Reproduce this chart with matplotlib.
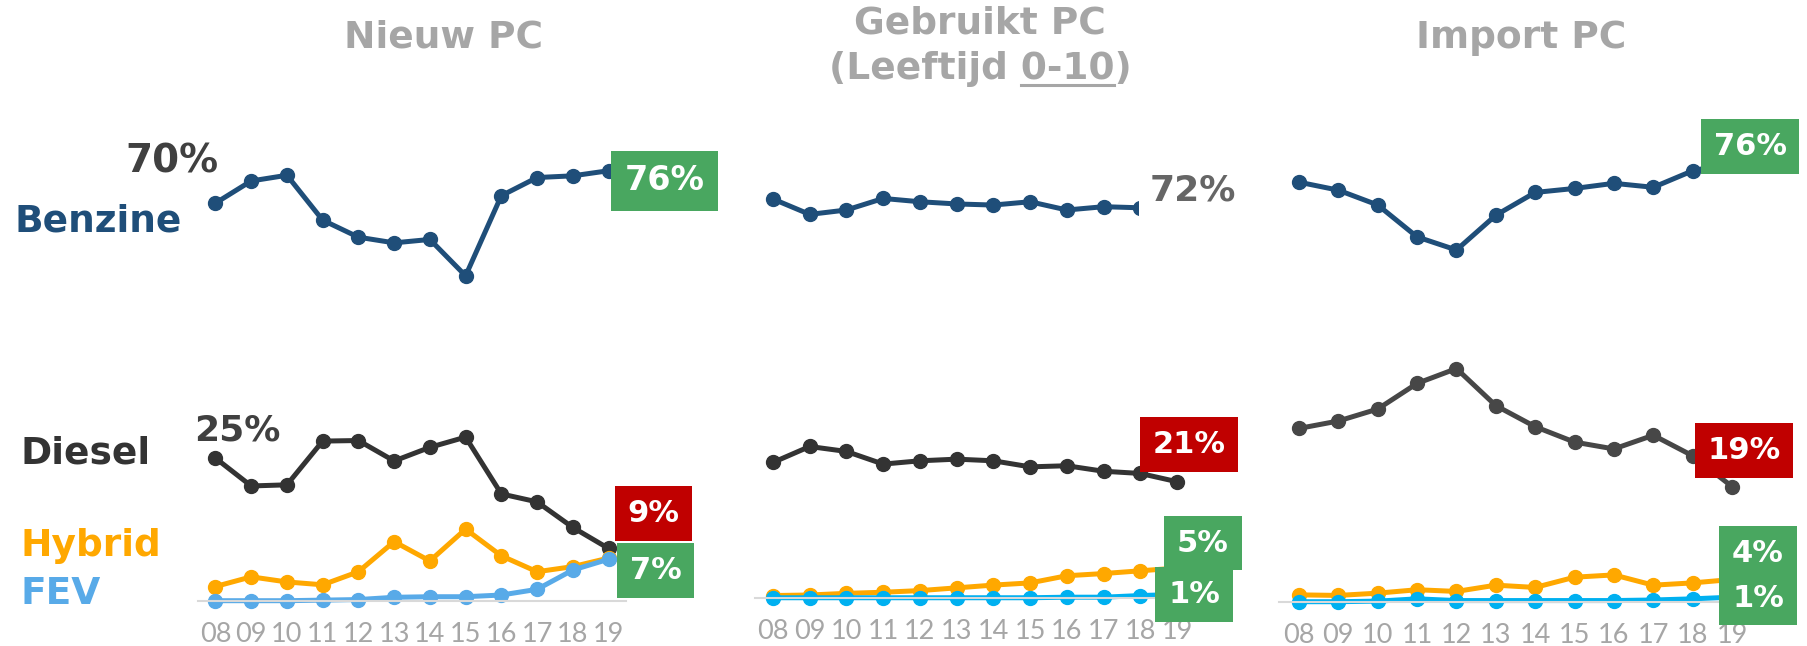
import matplotlib.pyplot as plt
from matplotlib.lines import Line2D

# Data (share of registrations, %)
years = ['08', '09', '10', '11', '12', '13', '14', '15', '16', '17', '18', '19']

nieuw_benzine = [70.0, 73.9, 74.9, 67.0, 64.0, 63.0, 63.6, 57.2, 71.3, 74.5, 74.8, 75.7]
nieuw_diesel = [25.1, 20.2, 20.4, 28.1, 28.2, 24.6, 27.0, 28.8, 18.8, 17.4, 12.9, 9.2]
nieuw_hybrid = [2.5, 4.2, 3.3, 2.8, 5.1, 10.4, 7.0, 12.6, 7.9, 5.1, 6.0, 7.5]
nieuw_fev = [0.0, 0.0, 0.0, 0.1, 0.2, 0.6, 0.7, 0.7, 1.0, 2.0, 5.4, 7.3]

gebruikt_benzine = [72.6, 69.8, 70.6, 72.7, 72.1, 71.7, 71.5, 72.1, 70.6, 71.2, 71.0, 72.0]
gebruikt_diesel = [24.7, 27.6, 26.7, 24.4, 25.0, 25.3, 25.0, 23.9, 24.1, 23.1, 22.7, 21.2]
gebruikt_hybrid = [0.5, 0.6, 0.9, 1.1, 1.4, 1.9, 2.4, 2.8, 4.1, 4.5, 5.0, 5.5]
gebruikt_fev = [0.1, 0.1, 0.1, 0.1, 0.1, 0.1, 0.1, 0.1, 0.2, 0.2, 0.5, 0.7]

import_benzine = [73.6, 72.2, 69.6, 64.0, 61.7, 67.8, 71.8, 72.5, 73.4, 72.7, 75.6, 77.0]
import_diesel = [30.4, 31.7, 33.8, 38.3, 40.9, 34.4, 30.7, 28.0, 26.8, 29.2, 25.6, 20.2]
import_hybrid = [1.2, 1.1, 1.5, 2.1, 1.8, 2.9, 2.5, 4.3, 4.7, 2.9, 3.3, 3.9]
import_fev = [0.0, 0.0, 0.1, 0.5, 0.2, 0.2, 0.2, 0.2, 0.2, 0.3, 0.5, 0.8]

W, H = 1807, 646
BLUE = '#1F4E79'; ORANGE = '#FFA800'; GREEN = '#49A760'; RED = '#C00000'
GREY_T = '#A6A6A6'

fig = plt.figure(figsize=(W / 100, H / 100), dpi=100)


def px(x, y):
    return x / W, 1 - y / H


def make_ax(left, width, base, scale, top=100):
    ax = fig.add_axes([left / W, (H - base) / H, width / W, (base - top) / H])
    ax.set_xlim(-0.5, 11.5)
    ax.set_ylim(0, (base - top) / scale)
    for s in ['top', 'left', 'right']:
        ax.spines[s].set_visible(False)
    ax.spines['bottom'].set_color('#D9D9D9')
    ax.spines['bottom'].set_linewidth(1.5)
    ax.set_yticks([])
    ax.set_xticks(range(len(years)), years)
    ax.tick_params(axis='x', length=0, pad=15, labelsize=19.5, labelcolor=GREY_T)
    for t in ax.get_xticklabels():
        t.set_fontfamily('Lato')
    return ax


def series(ax, vals, color):
    ax.plot(range(len(vals)), vals, color=color, lw=3.6, marker='o', ms=10,
            clip_on=False, solid_capstyle='round')


def box(ax, i, v, text, color, dx, dy, size=22, pad=0.42):
    ax.annotate(text, (i, v), xytext=(dx, -dy), textcoords='offset pixels',
                ha='center', va='center', fontsize=size, fontweight='bold', color='white',
                bbox=dict(boxstyle=f'square,pad={pad}', fc=color, ec='none'), zorder=10,
                annotation_clip=False)


def plain(ax, i, v, text, color, dx, dy, size=25, bg=None):
    kw = {}
    if bg:
        kw['bbox'] = dict(boxstyle='square,pad=0.3', fc=bg, ec='none')
    ax.annotate(text, (i, v), xytext=(dx, -dy), textcoords='offset pixels',
                ha='center', va='center', fontsize=size, fontweight='bold', color=color,
                zorder=10, annotation_clip=False, **kw)


# Nieuw PC
ax1 = make_ax(197.6, 428.8, 600.7, 5.68)
series(ax1, nieuw_benzine, BLUE)
series(ax1, nieuw_diesel, '#333333')
series(ax1, nieuw_hybrid, ORANGE)
series(ax1, nieuw_fev, '#58AAE8')
plain(ax1, 0, nieuw_benzine[0], '70%', '#404040', -44, -42, size=28)
plain(ax1, 0, nieuw_diesel[0], '25%', '#404040', 22, -28, size=26)
box(ax1, 11, nieuw_benzine[-1], '76%', GREEN, 56, 10, size=24, pad=0.4)
box(ax1, 11, nieuw_diesel[-1], '9%', RED, 45, -35)
box(ax1, 11, nieuw_fev[-1], '7%', GREEN, 47, 11)

# Gebruikt PC
ax2 = make_ax(754.6, 440.8, 598.3, 5.5)
series(ax2, gebruikt_benzine, BLUE)
series(ax2, gebruikt_diesel, '#333333')
series(ax2, gebruikt_hybrid, ORANGE)
series(ax2, gebruikt_fev, '#00B0F0')
plain(ax2, 11, gebruikt_benzine[-1], '72%', '#666666', 16, -12, size=26, bg='white')
box(ax2, 11, gebruikt_diesel[-1], '21%', RED, 12, -37)
box(ax2, 11, gebruikt_hybrid[-1], '5%', GREEN, 26, -25)
box(ax2, 11, gebruikt_fev[-1], '1%', GREEN, 17, 0)

# Import PC
ax3 = make_ax(1279.3, 472.4, 601.7, 5.7)
series(ax3, import_benzine, BLUE)
series(ax3, import_diesel, '#474747')
series(ax3, import_hybrid, ORANGE)
series(ax3, import_fev, '#00B0F0')
box(ax3, 11, import_benzine[-1], '76%', GREEN, 18, -16)
box(ax3, 11, import_diesel[-1], '19%', RED, 12, -36)
box(ax3, 11, import_hybrid[-1], '4%', GREEN, 26, -26)
box(ax3, 11, import_fev[-1], '1%', GREEN, 26, 1)

# series names on the left
for name, color, y, x in [('Benzine', BLUE, 222, 14), ('Diesel', '#333333', 453, 21),
                          ('Hybrid', ORANGE, 546, 21), ('FEV', '#58AAE8', 594, 21)]:
    fig.text(*px(x, y), name, ha='left', va='center', fontsize=27,
             fontweight='bold', color=color)

# titles
tprops = dict(ha='center', va='center', fontsize=27, fontweight='bold', color=GREY_T)
fig.text(*px(444, 38), 'Nieuw PC', **tprops)
fig.text(*px(980, 23), 'Gebruikt PC', **tprops)
fig.text(*px(1521, 38), 'Import PC', **tprops)
sub = fig.text(*px(980, 69), '(Leeftijd 0-10)', **tprops)

# underline "0-10"
r = fig.canvas.get_renderer()
bb = sub.get_window_extent(r)


def width_of(s):
    t = fig.text(0, 0, s, **tprops)
    w = t.get_window_extent(r).width
    t.remove()
    return w


end = bb.x0 + width_of('(Leeftijd 0-10')
start = end - width_of('0-10')
uy = bb.y0 + 2
fig.add_artist(Line2D([start / W, end / W], [uy / H, uy / H], color=GREY_T, lw=2.2,
                      transform=fig.transFigure))

fig.savefig('out.png', dpi=100)
